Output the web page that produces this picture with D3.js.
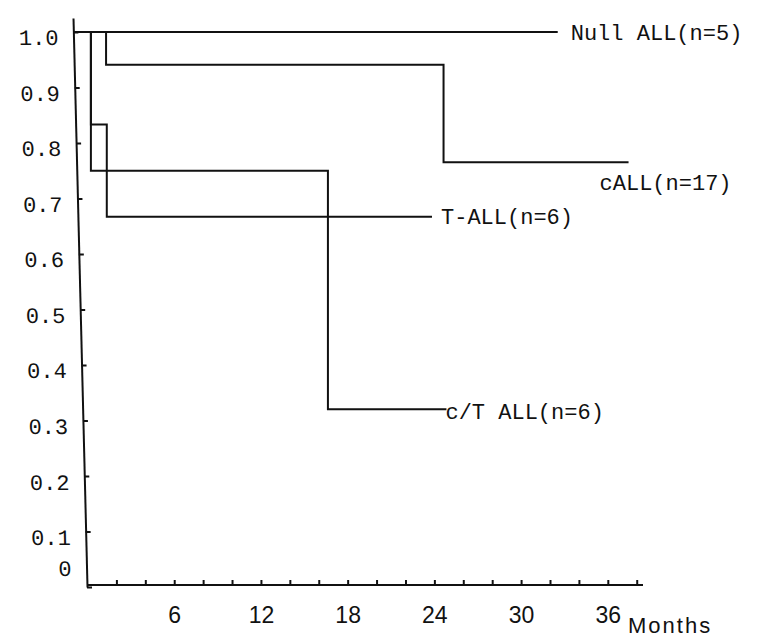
<!DOCTYPE html>
<html>
<head>
<meta charset="utf-8">
<script src="https://cdn.jsdelivr.net/npm/d3@7"></script>
<style>
body { margin: 0; background: #fff; }
svg { display: block; }
</style>
</head>
<body>
<script>
// cumulative survival by ALL subtype
const groups = ["Null ALL(n=5)", "cALL(n=17)", "T-ALL(n=6)", "c/T ALL(n=6)"];
const eventMonths = [[], [1.25, 24.6], [0.2, 1.3], [0.2, 16.6]];
const survival = [[], [0.941, 0.765], [0.833, 0.667], [0.75, 0.32]];
const lastMonth = [32.5, 37.4, 23.8, 24.8];

const yTicks = [0, 0.1, 0.2, 0.3, 0.4, 0.5, 0.6, 0.7, 0.8, 0.9, 1.0];
const xMinorTicks = [2, 4, 6, 8, 10, 12, 14, 16, 18, 20, 22, 24, 26, 28, 30, 32, 34, 36, 38];
const xLabels = [6, 12, 18, 24, 30, 36];

const W = 758, H = 640;
const ink = "#111";
const mono = "'Liberation Mono', 'DejaVu Sans Mono', monospace";
const sans = "'Liberation Sans', Arial, sans-serif";

const x = d3.scaleLinear().domain([0, 38.4]).range([88, 643]);
const y = d3.scaleLinear().domain([0, 1.025]).range([587, 18]);

// the hand-drawn y axis leans a little to the left at the top
const lean = Math.atan(14 / 569) * 180 / Math.PI;
const axisX = py => 87 + Math.tan(lean * Math.PI / 180) * (py - y(0));

const svg = d3.select("body").append("svg")
  .attr("width", W)
  .attr("height", H);

// y axis
const yAxis = svg.append("g")
  .attr("transform", `translate(87,${y(0)}) skewX(${lean}) translate(0,${-y(0)})`)
  .call(d3.axisLeft(y)
    .tickValues(yTicks)
    .tickSizeInner(-5)
    .tickSizeOuter(0)
    .tickPadding(15)
    .tickFormat(d => d === 0 ? "0" : d3.format(".1f")(d)));

yAxis.select(".domain")
  .attr("stroke", ink)
  .attr("stroke-width", 2);
yAxis.selectAll(".tick line")
  .attr("stroke", ink)
  .attr("stroke-width", 2);
yAxis.selectAll(".tick text")
  .attr("fill", ink)
  .style("font-family", mono)
  .style("font-size", "22px")
  .attr("y", d => d === 0 ? -19 : 6);

// x axis
const xAxis = svg.append("g").attr("transform", `translate(0,${y(0) - 2})`);
xAxis.append("line")
  .attr("x1", 87).attr("x2", 643)
  .attr("stroke", ink).attr("stroke-width", 2);
xAxis.selectAll("line.tick")
  .data(xMinorTicks)
  .join("line")
  .attr("class", "tick")
  .attr("x1", d => x(d)).attr("x2", d => x(d))
  .attr("y1", 0).attr("y2", -5)
  .attr("stroke", ink).attr("stroke-width", 2);
xAxis.selectAll("text")
  .data(xLabels)
  .join("text")
  .attr("x", d => x(d))
  .attr("y", 38)
  .attr("text-anchor", "middle")
  .attr("fill", ink)
  .style("font-family", sans)
  .style("font-size", "23px")
  .text(d => d);

svg.append("text")
  .attr("x", 628)
  .attr("y", 633)
  .attr("fill", ink)
  .style("font-family", sans)
  .style("font-size", "22px")
  .style("letter-spacing", "2px")
  .text("Months");

// step curves
const line = d3.line()
  .x((d, i) => i === 0 ? axisX(y(d[1])) : x(d[0]))
  .y(d => y(d[1]))
  .curve(d3.curveStepAfter);

const curves = groups.map((g, k) => {
  const pts = [[0, 1]];
  eventMonths[k].forEach((t, j) => pts.push([t, survival[k][j]]));
  const last = pts[pts.length - 1][1];
  pts.push([lastMonth[k], last]);
  return { name: g, pts, last };
});

svg.append("g")
  .selectAll("path")
  .data(curves)
  .join("path")
  .attr("d", d => line(d.pts))
  .attr("fill", "none")
  .attr("stroke", ink)
  .attr("stroke-width", 2);

// labels at the end of each curve
const labelShift = [[13, 0], [-29, 20], [9, 0], [-1, 2]];
svg.append("g")
  .selectAll("text")
  .data(curves)
  .join("text")
  .attr("x", (d, k) => x(lastMonth[k]) + labelShift[k][0])
  .attr("y", (d, k) => y(d.last) + labelShift[k][1])
  .attr("dy", "0.35em")
  .attr("fill", ink)
  .style("font-family", mono)
  .style("font-size", "22px")
  .text(d => d.name);
</script>
</body>
</html>
